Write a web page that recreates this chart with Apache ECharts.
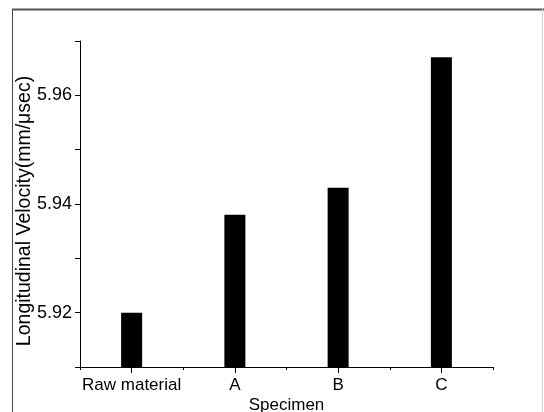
<!DOCTYPE html>
<html>
<head>
<meta charset="utf-8">
<script src="https://cdn.jsdelivr.net/npm/echarts@6/dist/echarts.min.js"></script>
<style>
html,body{margin:0;padding:0;background:#fff;}
#chart{width:544px;height:412px;}
</style>
</head>
<body>
<div id="chart"></div>
<script>
var categories = ['Raw material', 'A', 'B', 'C'];
var velocity = [5.920, 5.938, 5.943, 5.967];
var yLabelValues = [5.92, 5.94, 5.96];
var yMin = 5.91, yMax = 5.97, yStep = 0.01;
var xName = 'Specimen';
var yName = 'Longitudinal Velocity(mm/\u03BCsec)';

var font = 'Liberation Sans, Arial, sans-serif';
var chart = echarts.init(document.getElementById('chart'), null, {renderer: 'canvas'});
chart.setOption({
  animation: false,
  backgroundColor: '#fff',
  grid: {left: 80, right: 51, top: 41, bottom: 45, containLabel: false, outerBoundsMode: 'none'},
  graphic: [
    {type: 'line', shape: {x1: 12, y1: 9.5, x2: 544, y2: 9.5}, style: {stroke: '#555', lineWidth: 2}, silent: true},
    {type: 'line', shape: {x1: 12.5, y1: 9, x2: 12.5, y2: 412}, style: {stroke: '#444', lineWidth: 1}, silent: true},
    {type: 'line', shape: {x1: 542.5, y1: 9, x2: 542.5, y2: 412}, style: {stroke: '#ccc', lineWidth: 1}, silent: true}
  ],
  xAxis: [
    {
      type: 'category', data: categories, position: 'bottom',
      axisLine: {show: true, lineStyle: {color: '#000', width: 1}},
      axisTick: {show: true, alignWithLabel: true, length: 6, lineStyle: {color: '#000'}},
      axisLabel: {color: '#000', fontSize: 17, fontFamily: font, margin: 10, interval: 0},
      name: xName, nameLocation: 'middle', nameGap: 30, nameMoveOverlap: false,
      nameTextStyle: {color: '#000', fontSize: 17, fontFamily: font, verticalAlign: 'top'},
      splitLine: {show: false}
    },
    {
      type: 'category', data: categories, position: 'bottom',
      axisLine: {show: false},
      axisTick: {show: true, alignWithLabel: false, length: 3, lineStyle: {color: '#000'}},
      axisLabel: {show: false},
      splitLine: {show: false}
    }
  ],
  yAxis: {
    type: 'value', min: yMin, max: yMax, interval: yStep,
    axisLine: {show: true, lineStyle: {color: '#000', width: 1}},
    axisTick: {show: true, length: 5, lineStyle: {color: '#000'}},
    axisLabel: {
      color: '#000', fontSize: 18, fontFamily: font, margin: 8,
      customValues: yLabelValues,
      formatter: function (v) { return v.toFixed(2); }
    },
    name: yName, nameLocation: 'middle', nameGap: 45, nameRotate: 90, nameMoveOverlap: false,
    nameTextStyle: {color: '#000', fontSize: 19.5, fontFamily: font, padding: [0, 14, 0, 0]},
    splitLine: {show: false}
  },
  series: [{
    type: 'bar', data: velocity, barWidth: 21, xAxisIndex: 0,
    itemStyle: {color: '#000'}
  }]
});
</script>
</body>
</html>
